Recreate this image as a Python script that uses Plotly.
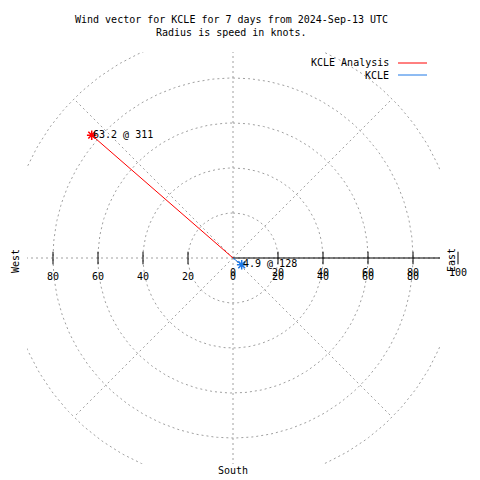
import numpy as np
import plotly.graph_objects as go

# ---------------- data ----------------
title_lines = ["Wind vector for KCLE for 7 days from 2024-Sep-13 UTC",
               "Radius is speed in knots."]
series_names = ["KCLE Analysis", "KCLE"]
speeds = [63.2, 4.9]            # knots
directions = [311, 128]         # degrees (from north, clockwise)
radial_offsets = [20, 0]        # radial offset as rendered in the reference
series_colors = ["#ff0000", "#1e78e6"]
ring_values = [20, 40, 60, 80, 100]
spoke_angles = [0, 45, 90, 135, 180, 225, 270, 315]
left_tick_values = [20, 40, 60, 80]
right_tick_values = [20, 40, 60, 80, 100]
right_label_values = [0, 20, 40, 60, 80]

FONT = "DejaVu Sans Mono"
GRID = "#a0a0a0"

# scale: 2.25 px per knot, centre at pixel (233, 258)
PX = 2.25
CX, CY = 233, 258
W = H = 480

def polar(r, deg):
    t = np.radians(deg)
    return r * np.sin(t), r * np.cos(t)

fig = go.Figure()

# ---- clipped grid (subplot 1: inner box) ----
th = np.arange(0, 361, 1)
for r in ring_values:
    x, y = polar(r, th)
    fig.add_trace(go.Scatter(x=x, y=y, mode="lines", xaxis="x", yaxis="y",
                             line=dict(color=GRID, width=1, dash="2px,3px"),
                             hoverinfo="skip", showlegend=False))
for a in spoke_angles:
    x, y = polar(np.array([0, 100]), a)
    fig.add_trace(go.Scatter(x=x, y=y, mode="lines", xaxis="x", yaxis="y",
                             line=dict(color=GRID, width=1, dash="2px,3px"),
                             hoverinfo="skip", showlegend=False))
# radial axis line (east)
ax_x, ax_y = polar(np.array([0, 100]), 90)
fig.add_trace(go.Scatter(x=ax_x, y=ax_y, mode="lines", xaxis="x", yaxis="y",
                         line=dict(color="black", width=1),
                         hoverinfo="skip", showlegend=False))

# ---- unclipped overlay (subplot 2: full figure) ----
tick_x = [-v for v in left_tick_values] + right_tick_values
fig.add_trace(go.Scatter(x=tick_x, y=[0] * len(tick_x), mode="markers",
                         xaxis="x2", yaxis="y2", cliponaxis=False,
                         marker=dict(symbol="line-ns-open", size=9,
                                     color="black",
                                     line=dict(color="black", width=1)),
                         hoverinfo="skip", showlegend=False))

annotations = []
for name, spd, d, off, col in zip(series_names, speeds, directions,
                                   radial_offsets, series_colors):
    px_, py_ = polar(spd + off, d)
    fig.add_trace(go.Scatter(x=[0, px_], y=[0, py_], mode="lines",
                             xaxis="x2", yaxis="y2",
                             line=dict(color=col, width=1),
                             hoverinfo="skip", showlegend=False))
    fig.add_trace(go.Scatter(x=[px_], y=[py_], mode="markers",
                             xaxis="x2", yaxis="y2", cliponaxis=False,
                             marker=dict(symbol="asterisk-open", size=8,
                                         color=col,
                                         line=dict(color=col, width=1.5)),
                             hoverinfo="skip", showlegend=False))
    annotations.append(dict(x=px_, y=py_, xref="x2", yref="y2",
                            text=f"{spd} @ {d}", showarrow=False,
                            xanchor="left", yanchor="middle", xshift=-1,
                            yshift=1, font=dict(family=FONT, size=10,
                                                color="black")))

# tick labels
for v in left_tick_values:
    annotations.append(dict(x=-v, y=0, xref="x2", yref="y2", text=str(v),
                            showarrow=False, xanchor="center",
                            yanchor="middle", yshift=-18,
                            font=dict(family=FONT, size=10, color="black")))
for v in right_label_values:
    for ys in (-18, -14):
        annotations.append(dict(x=v, y=0, xref="x2", yref="y2", text=str(v),
                                showarrow=False, xanchor="center",
                                yanchor="middle", yshift=ys,
                                font=dict(family=FONT, size=10,
                                          color="black")))
annotations.append(dict(x=100, y=0, xref="x2", yref="y2", text="100",
                        showarrow=False, xanchor="center", yanchor="middle",
                        yshift=-14, font=dict(family=FONT, size=10,
                                              color="black")))

# compass labels
for txt, px, py, ang in [("West", 15, 261, -90), ("East", 451, 260, -90),
                         ("South", 233, 470, 0)]:
    annotations.append(dict(x=px / W, y=1 - py / H, xref="paper",
                            yref="paper", text=txt, textangle=ang,
                            showarrow=False, xanchor="center",
                            yanchor="middle",
                            font=dict(family=FONT, size=10, color="black")))

# title
for i, t in enumerate(title_lines):
    annotations.append(dict(x=231.5 / W, y=1 - (20 + 13 * i) / H,
                            xref="paper", yref="paper", text=t,
                            showarrow=False, xanchor="center",
                            yanchor="middle",
                            font=dict(family=FONT, size=10, color="black")))

# legend (manual, gnuplot style)
shapes = []
for i, (name, col) in enumerate(zip(series_names, series_colors)):
    yy = 1 - (63 + 12 * i) / H
    annotations.append(dict(x=391 / W, y=yy, xref="paper", yref="paper",
                            text=name, showarrow=False, xanchor="right",
                            yanchor="middle",
                            font=dict(family=FONT, size=10, color="black")))
    shapes.append(dict(type="line", xref="paper", yref="paper",
                       x0=398 / W, x1=427 / W, y0=yy, y1=yy,
                       line=dict(color=col, width=1)))

# axes
x1_left, x1_right, y1_top, y1_bottom = 27, 440, 52, 464
xr1 = [(x1_left - CX) / PX, (x1_right - CX) / PX]
yr1 = [(CY - y1_bottom) / PX, (CY - y1_top) / PX]
xr2 = [(0 - CX) / PX, (W - CX) / PX]
yr2 = [(CY - H) / PX, (CY - 0) / PX]

hidden = dict(visible=False, showgrid=False, zeroline=False, fixedrange=True)
fig.update_layout(
    width=W, height=H, autosize=False,
    margin=dict(l=0, r=0, t=0, b=0, pad=0),
    paper_bgcolor="white", plot_bgcolor="rgba(0,0,0,0)",
    showlegend=False,
    xaxis=dict(domain=[x1_left / W, x1_right / W], range=xr1, anchor="y",
               **hidden),
    yaxis=dict(domain=[1 - y1_bottom / H, 1 - y1_top / H], range=yr1,
               anchor="x", **hidden),
    xaxis2=dict(domain=[0, 1], range=xr2, anchor="y2", **hidden),
    yaxis2=dict(domain=[0, 1], range=yr2, anchor="x2", **hidden),
    annotations=annotations, shapes=shapes,
)

fig.write_html("out.html", config={"displayModeBar": False},
               post_script="document.body.style.margin='0';"
                           "document.body.style.overflow='hidden';")
